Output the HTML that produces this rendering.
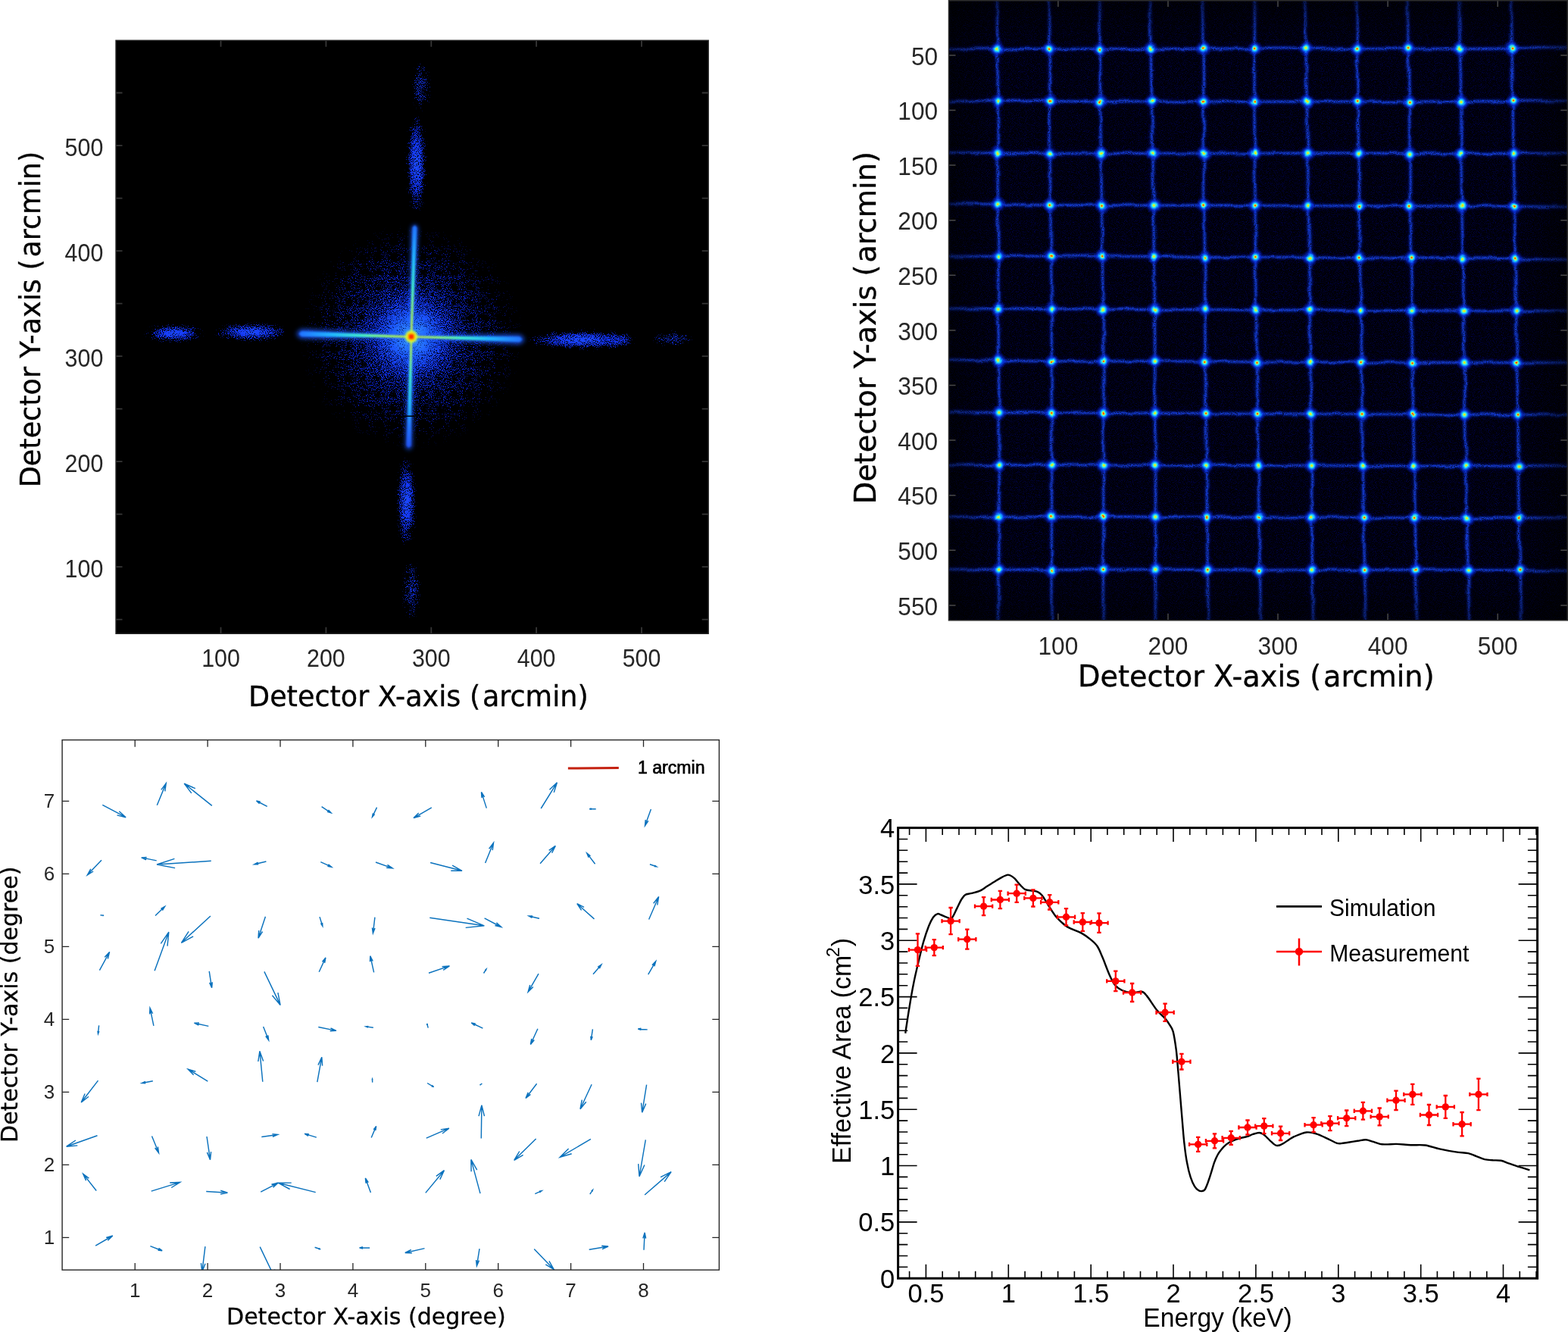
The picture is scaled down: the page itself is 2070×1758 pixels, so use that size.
<!DOCTYPE html>
<html lang="en"><head><meta charset="utf-8"><title>Detector calibration figure</title>
<style>
html,body{margin:0;padding:0;background:#fff}
body{width:2070px;height:1758px;overflow:hidden}
svg{display:block;position:absolute;left:0;top:0}
.hv{font-family:"Liberation Sans",Arial,Helvetica,sans-serif}
.dj{font-family:"DejaVu Sans",Verdana,sans-serif}
.tk{fill:#262626}
</style></head><body>
<svg width="2070" height="1758" viewBox="0 0 2070 1758">
<defs>

<radialGradient id="halo" cx="543" cy="444.5" r="150" gradientUnits="userSpaceOnUse">
<stop offset="0" stop-color="#48b0ff" stop-opacity="1"/>
<stop offset="0.07" stop-color="#3088ff" stop-opacity="1"/>
<stop offset="0.18" stop-color="#1c58ff" stop-opacity="0.85"/>
<stop offset="0.32" stop-color="#1438f8" stop-opacity="0.6"/>
<stop offset="0.5" stop-color="#0c28e8" stop-opacity="0.4"/>
<stop offset="0.7" stop-color="#0a20d8" stop-opacity="0.24"/>
<stop offset="0.87" stop-color="#0818d0" stop-opacity="0.1"/>
<stop offset="1" stop-color="#0818d0" stop-opacity="0"/>
</radialGradient>
<radialGradient id="haze" cx="543" cy="444.5" r="70" gradientUnits="userSpaceOnUse">
<stop offset="0" stop-color="#1040e0" stop-opacity="0.75"/>
<stop offset="0.3" stop-color="#0828c0" stop-opacity="0.45"/>
<stop offset="0.65" stop-color="#0418a0" stop-opacity="0.2"/>
<stop offset="1" stop-color="#001080" stop-opacity="0"/>
</radialGradient>
<radialGradient id="blob">
<stop offset="0" stop-color="#2050ff" stop-opacity="0.95"/>
<stop offset="0.45" stop-color="#1438f8" stop-opacity="0.8"/>
<stop offset="0.8" stop-color="#0c28e8" stop-opacity="0.45"/>
<stop offset="1" stop-color="#081cd0" stop-opacity="0.1"/>
</radialGradient>
<radialGradient id="blobf">
<stop offset="0" stop-color="#1838f0" stop-opacity="0.6"/>
<stop offset="0.6" stop-color="#1030e8" stop-opacity="0.4"/>
<stop offset="1" stop-color="#0c24e0" stop-opacity="0.1"/>
</radialGradient>
<radialGradient id="core" cx="543" cy="444.3" r="10" gradientUnits="userSpaceOnUse">
<stop offset="0" stop-color="#ff2a00"/>
<stop offset="0.28" stop-color="#ff5a00"/>
<stop offset="0.45" stop-color="#ffd000"/>
<stop offset="0.7" stop-color="#d8ff30" stop-opacity="0.9"/>
<stop offset="1" stop-color="#60ffb0" stop-opacity="0"/>
</radialGradient>
<linearGradient id="armU" x1="543" y1="444.5" x2="547.5" y2="297" gradientUnits="userSpaceOnUse">
<stop offset="0" stop-color="#e8ff20"/><stop offset="0.2" stop-color="#a0ff60"/><stop offset="0.45" stop-color="#40f0d0"/><stop offset="0.7" stop-color="#20b8ff"/><stop offset="1" stop-color="#2070ff"/>
</linearGradient>
<linearGradient id="armD" x1="543" y1="444.5" x2="539.5" y2="592" gradientUnits="userSpaceOnUse">
<stop offset="0" stop-color="#e8ff20"/><stop offset="0.15" stop-color="#a0ff60"/><stop offset="0.35" stop-color="#40f0d0"/><stop offset="0.6" stop-color="#20b8ff"/><stop offset="0.8" stop-color="#2478ff"/><stop offset="1" stop-color="#2050f0"/>
</linearGradient>
<linearGradient id="armL" x1="543" y1="444.5" x2="394" y2="440.5" gradientUnits="userSpaceOnUse">
<stop offset="0" stop-color="#e8ff20"/><stop offset="0.2" stop-color="#a0ff60"/><stop offset="0.45" stop-color="#40f0d0"/><stop offset="0.7" stop-color="#20b8ff"/><stop offset="1" stop-color="#2070ff"/>
</linearGradient>
<linearGradient id="armR" x1="543" y1="444.5" x2="690" y2="448" gradientUnits="userSpaceOnUse">
<stop offset="0" stop-color="#e8ff20"/><stop offset="0.2" stop-color="#a0ff60"/><stop offset="0.45" stop-color="#40f0d0"/><stop offset="0.7" stop-color="#20b8ff"/><stop offset="1" stop-color="#2070ff"/>
</linearGradient>
<filter id="b1" x="152" y="52" width="784" height="785" filterUnits="userSpaceOnUse"><feGaussianBlur stdDeviation="0.9"/></filter>
<filter id="b3" x="152" y="52" width="784" height="785" filterUnits="userSpaceOnUse"><feGaussianBlur stdDeviation="3"/></filter>
<filter id="grain1" x="152" y="52" width="784" height="785" filterUnits="userSpaceOnUse" color-interpolation-filters="sRGB">
<feTurbulence type="fractalNoise" baseFrequency="0.95" numOctaves="2" seed="11" result="n"/>
<feColorMatrix in="n" type="matrix" values="0 0 0 0 0 0 0 0 0 0 0 0 0 0 0 0 0 0 2.2 -0.6" result="na"/>
<feGaussianBlur in="SourceGraphic" stdDeviation="2.5" result="s"/>
<feComposite in="s" in2="na" operator="arithmetic" k1="0" k2="1" k3="1" k4="-1" result="m"/>
<feColorMatrix in="m" type="matrix" values="0 0 0 0 0 0 0 0 0 0 0 0 0 0 0 0 0 0 5 0" result="m2"/>
<feComponentTransfer in="s" result="s2"><feFuncA type="linear" slope="40"/></feComponentTransfer>
<feComposite in="s2" in2="m2" operator="in"/>
</filter>
<radialGradient id="node">
<stop offset="0" stop-color="#e81800"/>
<stop offset="0.07" stop-color="#ff6000"/>
<stop offset="0.13" stop-color="#f0e020"/>
<stop offset="0.19" stop-color="#70ffa8"/>
<stop offset="0.28" stop-color="#20d0ff"/>
<stop offset="0.4" stop-color="#1080ff" stop-opacity="0.95"/>
<stop offset="0.56" stop-color="#0838f0" stop-opacity="0.7"/>
<stop offset="0.8" stop-color="#0420d0" stop-opacity="0.3"/>
<stop offset="1" stop-color="#0010c0" stop-opacity="0"/>
</radialGradient>
<radialGradient id="node2">
<stop offset="0" stop-color="#ffc000"/>
<stop offset="0.08" stop-color="#e8f020"/>
<stop offset="0.17" stop-color="#70ffa8"/>
<stop offset="0.28" stop-color="#20d0ff"/>
<stop offset="0.4" stop-color="#1080ff" stop-opacity="0.95"/>
<stop offset="0.56" stop-color="#0838f0" stop-opacity="0.7"/>
<stop offset="0.8" stop-color="#0420d0" stop-opacity="0.3"/>
<stop offset="1" stop-color="#0010c0" stop-opacity="0"/>
</radialGradient>
<circle id="nd" r="11" fill="url(#node)"/>
<circle id="ne" r="11" fill="url(#node2)"/>
<filter id="g1" x="1252" y="0" width="818" height="819" filterUnits="userSpaceOnUse"><feGaussianBlur stdDeviation="0.8"/></filter>
<filter id="g3" x="1252" y="0" width="818" height="819" filterUnits="userSpaceOnUse"><feGaussianBlur stdDeviation="2.2"/></filter>
<filter id="spk" x="1252" y="0" width="818" height="819" filterUnits="userSpaceOnUse" color-interpolation-filters="sRGB">
<feTurbulence type="fractalNoise" baseFrequency="1.1" numOctaves="2" seed="3" result="n"/>
<feColorMatrix in="n" type="matrix" values="0 0 0 0 0 0 0 0 0 0.01 0 0 0 0 0.32 0 0 0 2.6 -1.2"/>
</filter>
<filter id="grain2" x="1252" y="0" width="818" height="819" filterUnits="userSpaceOnUse" color-interpolation-filters="sRGB">
<feTurbulence type="fractalNoise" baseFrequency="0.9" numOctaves="1" seed="21" result="n"/>
<feColorMatrix in="n" type="matrix" values="0 0 0 0 0 0 0 0 0 0 0 0 0 0 0 0 0 0 3 -0.6" result="m"/>
<feComposite in="SourceGraphic" in2="m" operator="in"/>
</filter>

<linearGradient id="vT" x1="0" y1="0" x2="0" y2="1"><stop offset="0" stop-color="#000" stop-opacity="0.55"/><stop offset="1" stop-color="#000" stop-opacity="0"/></linearGradient>
<linearGradient id="vB" x1="0" y1="1" x2="0" y2="0"><stop offset="0" stop-color="#000" stop-opacity="0.45"/><stop offset="1" stop-color="#000" stop-opacity="0"/></linearGradient>
<linearGradient id="vL" x1="0" y1="0" x2="1" y2="0"><stop offset="0" stop-color="#000" stop-opacity="0.5"/><stop offset="1" stop-color="#000" stop-opacity="0"/></linearGradient>
<linearGradient id="vR" x1="1" y1="0" x2="0" y2="0"><stop offset="0" stop-color="#000" stop-opacity="0.6"/><stop offset="1" stop-color="#000" stop-opacity="0"/></linearGradient>

<filter id="wob" x="1240" y="-10" width="840" height="840" filterUnits="userSpaceOnUse" color-interpolation-filters="sRGB">
<feTurbulence type="fractalNoise" baseFrequency="0.04" numOctaves="2" seed="8" result="t"/>
<feDisplacementMap in="SourceGraphic" in2="t" scale="4.5" xChannelSelector="R" yChannelSelector="G"/>
</filter>

</defs>
<rect x="0" y="0" width="2070" height="1758" fill="#fff"/>
<g id="panel-psf">
<rect x="153" y="53.3" width="782.2" height="783" fill="#000"/>
<clipPath id="c1"><rect x="153" y="53.3" width="782.2" height="783"/></clipPath>
<g clip-path="url(#c1)">
<circle cx="543" cy="444.5" r="70" fill="url(#haze)"/>
<g filter="url(#grain1)">
<circle cx="543" cy="444.5" r="150" fill="url(#halo)"/>
<ellipse cx="549.8" cy="216" rx="13" ry="64" fill="url(#blob)"/>
<ellipse cx="556" cy="114" rx="11" ry="32" fill="url(#blobf)"/>
<ellipse cx="536.5" cy="662" rx="12" ry="58" fill="url(#blob)"/>
<ellipse cx="543" cy="778" rx="11" ry="38" fill="url(#blobf)"/>
<ellipse cx="332" cy="438.5" rx="48" ry="11" fill="url(#blob)"/>
<ellipse cx="230" cy="440" rx="38" ry="11" fill="url(#blob)"/>
<ellipse cx="768" cy="448.5" rx="70" ry="12" fill="url(#blob)"/>
<ellipse cx="816" cy="449.5" rx="20" ry="10" fill="url(#blobf)"/>
<ellipse cx="888" cy="447" rx="26" ry="9" fill="url(#blobf)"/>
</g>
<g filter="url(#b3)" fill="#1c58ff" opacity="0.9">
<path d="M546 444.6L551.5 300.1L547.6 296L543.5 299.9L540 444.4Z"/>
<path d="M540 444.4L535.6 589.9L539.5 594L543.6 590.1L546 444.6Z"/>
<path d="M543.1 441.5L397.2 434.6L391 440.4L396.8 446.6L542.9 447.5Z"/>
<path d="M542.9 447.5L686.9 453.9L693 448L687.1 441.9L543.1 441.5Z"/>
</g>
<g filter="url(#b1)">
<path d="M544.1 444.5L550.3 300.1L547.6 297.2L544.7 299.9L541.9 444.5Z" fill="url(#armU)"/>
<path d="M541.9 444.5L536.6 587.9L539.5 591L542.6 588.1L544.1 444.5Z" fill="url(#armD)"/>
<path d="M543 443.4L398.1 437.2L394.6 440.5L397.9 444L543 445.6Z" fill="url(#armL)"/>
<path d="M543 445.6L685.9 451.3L689.4 448L686.1 444.5L543 443.4Z" fill="url(#armR)"/>
<circle cx="543" cy="444.3" r="10" fill="url(#core)"/>
<rect x="539.6" y="441" width="6.6" height="6.6" fill="#ff3000"/>
</g>
<path d="M498 549.3H588" stroke="#000" stroke-width="1.6" fill="none"/>
</g>
<path d="M291.5 836.3v-8.5M291.5 53.3v8.5M430.4 836.3v-8.5M430.4 53.3v8.5M569.3 836.3v-8.5M569.3 53.3v8.5M708.1 836.3v-8.5M708.1 53.3v8.5M847 836.3v-8.5M847 53.3v8.5M153 817.6h8.5M935.2 817.6h-8.5M153 748.1h8.5M935.2 748.1h-8.5M153 678.6h8.5M935.2 678.6h-8.5M153 609.1h8.5M935.2 609.1h-8.5M153 539.6h8.5M935.2 539.6h-8.5M153 470.1h8.5M935.2 470.1h-8.5M153 400.6h8.5M935.2 400.6h-8.5M153 331.1h8.5M935.2 331.1h-8.5M153 261.6h8.5M935.2 261.6h-8.5M153 192.1h8.5M935.2 192.1h-8.5M153 122.5h8.5M935.2 122.5h-8.5" fill="none" stroke="#363636" stroke-width="1.8"/>
<rect x="153" y="53.3" width="782.2" height="783" fill="none" stroke="#262626" stroke-width="1.4"/>
<g class="tk">
<text class="hv" transform="translate(291.5 879.9) scale(0.932 1)" font-size="32.6" text-anchor="middle">100</text>
<text class="hv" transform="translate(136.3 761.79) scale(0.932 1)" font-size="32.6" text-anchor="end">100</text>
<text class="hv" transform="translate(430.38 879.9) scale(0.932 1)" font-size="32.6" text-anchor="middle">200</text>
<text class="hv" transform="translate(136.3 622.78) scale(0.932 1)" font-size="32.6" text-anchor="end">200</text>
<text class="hv" transform="translate(569.26 879.9) scale(0.932 1)" font-size="32.6" text-anchor="middle">300</text>
<text class="hv" transform="translate(136.3 483.77) scale(0.932 1)" font-size="32.6" text-anchor="end">300</text>
<text class="hv" transform="translate(708.14 879.9) scale(0.932 1)" font-size="32.6" text-anchor="middle">400</text>
<text class="hv" transform="translate(136.3 344.76) scale(0.932 1)" font-size="32.6" text-anchor="end">400</text>
<text class="hv" transform="translate(847.02 879.9) scale(0.932 1)" font-size="32.6" text-anchor="middle">500</text>
<text class="hv" transform="translate(136.3 205.75) scale(0.932 1)" font-size="32.6" text-anchor="end">500</text>
</g>
<text class="dj" transform="translate(328 931.6) scale(0.977 1)" font-size="37.4" fill="#000" stroke="#000" stroke-width="0.35">Detector X-axis (<tspan dx="2.7">arcmin)</tspan></text>
<text class="dj" transform="translate(53.2 643.3) rotate(-90) scale(0.977 1)" font-size="37.4" fill="#000" stroke="#000" stroke-width="0.35">Detector Y-axis (<tspan dx="2.7">arcmin)</tspan></text>
</g>
<g id="panel-grid">
<rect x="1252.5" y="0" width="818" height="818.8" fill="#000006"/>
<clipPath id="c2"><rect x="1252.5" y="0" width="818" height="818.8"/></clipPath>
<g clip-path="url(#c2)">
<rect x="1252.5" y="0" width="818" height="818.8" fill="#000" filter="url(#spk)"/>
<g filter="url(#wob)">
<g filter="url(#grain2)">
<path d="M1250 64.4L1316.8 64.6L1385.1 64.8L1452.2 64.8L1519.1 64.3L1588.1 64.5L1656.2 64L1723.9 64.1L1791.6 64.4L1859.1 64.1L1927.5 64.8L1996.1 64L2072 63.2M1250 133.5L1317.4 133.5L1385.8 133.5L1452.5 134.2L1520.6 133.6L1588.9 134.2L1655.9 134.3L1725.2 134L1792.2 134.3L1860.4 134.3L1929 133.7L1997 133.5L2072 133.4M1250 201.5L1317.1 202L1386.2 202.5L1453.5 202.6L1521.8 202.2L1589.4 202.4L1656.4 202.4L1726.6 202L1793.9 202L1861.1 202.8L1928.9 202.7L1998.2 202.5L2072 202.3M1250 268.6L1317.3 269.6L1386.7 270.7L1454.5 270.7L1523.3 271.1L1589.6 270.7L1657.1 271.3L1727 271.4L1794.7 271.7L1861.2 272L1929.9 271.6L1999.6 272.4L2072 273.1M1250 338.4L1317.9 338.1L1387.6 337.9L1455.3 338.1L1523.3 338.5L1590.6 339.7L1657.4 339.1L1728.9 340L1795.2 340.1L1862.6 341L1931.3 341L2000.2 341.8L2072 342.8M1250 407.2L1317.8 407.2L1388.4 407.2L1456.2 408.3L1524.4 408.5L1590.7 408.4L1658.1 409.2L1729.1 409.1L1796.8 409.8L1863.9 409.8L1932.3 410.4L2001.7 410.3L2072 410.1M1250 474.8L1318.4 475.9L1388.2 477L1456.8 476.8L1524.8 476.8L1591.3 476.9L1659.5 477.8L1730 477.9L1797.6 478.1L1864.6 478.4L1933.2 478.5L2002.5 478.6L2072 478.6M1250 544L1319 544.5L1388.3 545.1L1456.8 545L1524.6 545.2L1592.1 545.6L1660 546.1L1730.9 546.3L1798.1 546.4L1865.8 546.9L1934.3 547.2L2004.1 547.3L2072 547.4M1250 614.1L1319.3 613.8L1388.7 613.6L1456.4 614.1L1525.7 613.9L1593.2 614.3L1661.3 614L1731.7 614.6L1799.4 614.6L1866.9 615.1L1935.7 615.3L2004.3 614.9L2072 614.5M1250 681.9L1318.9 682.1L1388.4 682.3L1456.9 681.8L1525.3 682.2L1593.2 682.3L1661.9 682.5L1731.6 682.6L1800.3 683.1L1868.2 683.5L1936.5 684L2005.2 683.7L2072 683.4M1250 751.3L1318.8 751.8L1388.1 752.3L1456.5 751.5L1525.3 751.6L1594.3 751.9L1663.3 752.6L1732.6 752.1L1801.6 752.4L1869.3 751.9L1938.1 752.4L2007 752.8L2072 753.3M1316.3 -2L1316.8 64.6L1317.4 133.5L1317.1 202L1317.3 269.6L1317.9 338.1L1317.8 407.2L1318.4 475.9L1319 544.5L1319.3 613.8L1318.9 682.1L1318.8 751.8L1318.7 821M1384.4 -2L1385.1 64.8L1385.8 133.5L1386.2 202.5L1386.7 270.7L1387.6 337.9L1388.4 407.2L1388.2 477L1388.3 545.1L1388.7 613.6L1388.4 682.3L1388.1 752.3L1387.9 821M1451.9 -2L1452.2 64.8L1452.5 134.2L1453.5 202.6L1454.5 270.7L1455.3 338.1L1456.2 408.3L1456.8 476.8L1456.8 545L1456.4 614.1L1456.9 681.8L1456.5 751.5L1456.1 821M1517.8 -2L1519.1 64.3L1520.6 133.6L1521.8 202.2L1523.3 271.1L1523.3 338.5L1524.4 408.5L1524.8 476.8L1524.6 545.2L1525.7 613.9L1525.3 682.2L1525.3 751.6L1525.3 821M1587.4 -2L1588.1 64.5L1588.9 134.2L1589.4 202.4L1589.6 270.7L1590.6 339.7L1590.7 408.4L1591.3 476.9L1592.1 545.6L1593.2 614.3L1593.2 682.3L1594.3 751.9L1595.4 821M1656.5 -2L1656.2 64L1655.9 134.3L1656.4 202.4L1657.1 271.3L1657.4 339.1L1658.1 409.2L1659.5 477.8L1660 546.1L1661.3 614L1661.9 682.5L1663.3 752.6L1664.7 821M1722.6 -2L1723.9 64.1L1725.2 134L1726.6 202L1727 271.4L1728.9 340L1729.1 409.1L1730 477.9L1730.9 546.3L1731.7 614.6L1731.6 682.6L1732.6 752.1L1733.6 821M1791 -2L1791.6 64.4L1792.2 134.3L1793.9 202L1794.7 271.7L1795.2 340.1L1796.8 409.8L1797.6 478.1L1798.1 546.4L1799.4 614.6L1800.3 683.1L1801.6 752.4L1803 821M1858 -2L1859.1 64.1L1860.4 134.3L1861.1 202.8L1861.2 272L1862.6 341L1863.9 409.8L1864.6 478.4L1865.8 546.9L1866.9 615.1L1868.2 683.5L1869.3 751.9L1870.5 821M1926.1 -2L1927.5 64.8L1929 133.7L1928.9 202.7L1929.9 271.6L1931.3 341L1932.3 410.4L1933.2 478.5L1934.3 547.2L1935.7 615.3L1936.5 684L1938.1 752.4L1939.7 821M1995.3 -2L1996.1 64L1997 133.5L1998.2 202.5L1999.6 272.4L2000.2 341.8L2001.7 410.3L2002.5 478.6L2004.1 547.3L2004.3 614.9L2005.2 683.7L2007 752.8L2008.8 821" fill="none" stroke="#0824e8" stroke-opacity="0.5" stroke-width="4.5" filter="url(#g3)"/>
<path d="M1250 64.4L1316.8 64.6L1385.1 64.8L1452.2 64.8L1519.1 64.3L1588.1 64.5L1656.2 64L1723.9 64.1L1791.6 64.4L1859.1 64.1L1927.5 64.8L1996.1 64L2072 63.2M1250 133.5L1317.4 133.5L1385.8 133.5L1452.5 134.2L1520.6 133.6L1588.9 134.2L1655.9 134.3L1725.2 134L1792.2 134.3L1860.4 134.3L1929 133.7L1997 133.5L2072 133.4M1250 201.5L1317.1 202L1386.2 202.5L1453.5 202.6L1521.8 202.2L1589.4 202.4L1656.4 202.4L1726.6 202L1793.9 202L1861.1 202.8L1928.9 202.7L1998.2 202.5L2072 202.3M1250 268.6L1317.3 269.6L1386.7 270.7L1454.5 270.7L1523.3 271.1L1589.6 270.7L1657.1 271.3L1727 271.4L1794.7 271.7L1861.2 272L1929.9 271.6L1999.6 272.4L2072 273.1M1250 338.4L1317.9 338.1L1387.6 337.9L1455.3 338.1L1523.3 338.5L1590.6 339.7L1657.4 339.1L1728.9 340L1795.2 340.1L1862.6 341L1931.3 341L2000.2 341.8L2072 342.8M1250 407.2L1317.8 407.2L1388.4 407.2L1456.2 408.3L1524.4 408.5L1590.7 408.4L1658.1 409.2L1729.1 409.1L1796.8 409.8L1863.9 409.8L1932.3 410.4L2001.7 410.3L2072 410.1M1250 474.8L1318.4 475.9L1388.2 477L1456.8 476.8L1524.8 476.8L1591.3 476.9L1659.5 477.8L1730 477.9L1797.6 478.1L1864.6 478.4L1933.2 478.5L2002.5 478.6L2072 478.6M1250 544L1319 544.5L1388.3 545.1L1456.8 545L1524.6 545.2L1592.1 545.6L1660 546.1L1730.9 546.3L1798.1 546.4L1865.8 546.9L1934.3 547.2L2004.1 547.3L2072 547.4M1250 614.1L1319.3 613.8L1388.7 613.6L1456.4 614.1L1525.7 613.9L1593.2 614.3L1661.3 614L1731.7 614.6L1799.4 614.6L1866.9 615.1L1935.7 615.3L2004.3 614.9L2072 614.5M1250 681.9L1318.9 682.1L1388.4 682.3L1456.9 681.8L1525.3 682.2L1593.2 682.3L1661.9 682.5L1731.6 682.6L1800.3 683.1L1868.2 683.5L1936.5 684L2005.2 683.7L2072 683.4M1250 751.3L1318.8 751.8L1388.1 752.3L1456.5 751.5L1525.3 751.6L1594.3 751.9L1663.3 752.6L1732.6 752.1L1801.6 752.4L1869.3 751.9L1938.1 752.4L2007 752.8L2072 753.3M1316.3 -2L1316.8 64.6L1317.4 133.5L1317.1 202L1317.3 269.6L1317.9 338.1L1317.8 407.2L1318.4 475.9L1319 544.5L1319.3 613.8L1318.9 682.1L1318.8 751.8L1318.7 821M1384.4 -2L1385.1 64.8L1385.8 133.5L1386.2 202.5L1386.7 270.7L1387.6 337.9L1388.4 407.2L1388.2 477L1388.3 545.1L1388.7 613.6L1388.4 682.3L1388.1 752.3L1387.9 821M1451.9 -2L1452.2 64.8L1452.5 134.2L1453.5 202.6L1454.5 270.7L1455.3 338.1L1456.2 408.3L1456.8 476.8L1456.8 545L1456.4 614.1L1456.9 681.8L1456.5 751.5L1456.1 821M1517.8 -2L1519.1 64.3L1520.6 133.6L1521.8 202.2L1523.3 271.1L1523.3 338.5L1524.4 408.5L1524.8 476.8L1524.6 545.2L1525.7 613.9L1525.3 682.2L1525.3 751.6L1525.3 821M1587.4 -2L1588.1 64.5L1588.9 134.2L1589.4 202.4L1589.6 270.7L1590.6 339.7L1590.7 408.4L1591.3 476.9L1592.1 545.6L1593.2 614.3L1593.2 682.3L1594.3 751.9L1595.4 821M1656.5 -2L1656.2 64L1655.9 134.3L1656.4 202.4L1657.1 271.3L1657.4 339.1L1658.1 409.2L1659.5 477.8L1660 546.1L1661.3 614L1661.9 682.5L1663.3 752.6L1664.7 821M1722.6 -2L1723.9 64.1L1725.2 134L1726.6 202L1727 271.4L1728.9 340L1729.1 409.1L1730 477.9L1730.9 546.3L1731.7 614.6L1731.6 682.6L1732.6 752.1L1733.6 821M1791 -2L1791.6 64.4L1792.2 134.3L1793.9 202L1794.7 271.7L1795.2 340.1L1796.8 409.8L1797.6 478.1L1798.1 546.4L1799.4 614.6L1800.3 683.1L1801.6 752.4L1803 821M1858 -2L1859.1 64.1L1860.4 134.3L1861.1 202.8L1861.2 272L1862.6 341L1863.9 409.8L1864.6 478.4L1865.8 546.9L1866.9 615.1L1868.2 683.5L1869.3 751.9L1870.5 821M1926.1 -2L1927.5 64.8L1929 133.7L1928.9 202.7L1929.9 271.6L1931.3 341L1932.3 410.4L1933.2 478.5L1934.3 547.2L1935.7 615.3L1936.5 684L1938.1 752.4L1939.7 821M1995.3 -2L1996.1 64L1997 133.5L1998.2 202.5L1999.6 272.4L2000.2 341.8L2001.7 410.3L2002.5 478.6L2004.1 547.3L2004.3 614.9L2005.2 683.7L2007 752.8L2008.8 821" fill="none" stroke="#1c50ff" stroke-width="2.4" filter="url(#g1)"/>
</g>
<g><use href="#ne" x="1316.8" y="64.6"/><use href="#nd" x="1385.1" y="64.8"/><use href="#nd" x="1452.2" y="64.8"/><use href="#ne" x="1519.1" y="64.3"/><use href="#nd" x="1588.1" y="64.5"/><use href="#nd" x="1656.2" y="64"/><use href="#ne" x="1723.9" y="64.1"/><use href="#nd" x="1791.6" y="64.4"/><use href="#nd" x="1859.1" y="64.1"/><use href="#ne" x="1927.5" y="64.8"/><use href="#nd" x="1996.1" y="64"/><use href="#ne" x="1317.4" y="133.5"/><use href="#nd" x="1385.8" y="133.5"/><use href="#nd" x="1452.5" y="134.2"/><use href="#ne" x="1520.6" y="133.6"/><use href="#nd" x="1588.9" y="134.2"/><use href="#nd" x="1655.9" y="134.3"/><use href="#ne" x="1725.2" y="134"/><use href="#nd" x="1792.2" y="134.3"/><use href="#nd" x="1860.4" y="134.3"/><use href="#ne" x="1929" y="133.7"/><use href="#nd" x="1997" y="133.5"/><use href="#ne" x="1317.1" y="202"/><use href="#ne" x="1386.2" y="202.5"/><use href="#ne" x="1453.5" y="202.6"/><use href="#ne" x="1521.8" y="202.2"/><use href="#ne" x="1589.4" y="202.4"/><use href="#ne" x="1656.4" y="202.4"/><use href="#ne" x="1726.6" y="202"/><use href="#ne" x="1793.9" y="202"/><use href="#ne" x="1861.1" y="202.8"/><use href="#ne" x="1928.9" y="202.7"/><use href="#ne" x="1998.2" y="202.5"/><use href="#ne" x="1317.3" y="269.6"/><use href="#nd" x="1386.7" y="270.7"/><use href="#nd" x="1454.5" y="270.7"/><use href="#ne" x="1523.3" y="271.1"/><use href="#nd" x="1589.6" y="270.7"/><use href="#nd" x="1657.1" y="271.3"/><use href="#ne" x="1727" y="271.4"/><use href="#nd" x="1794.7" y="271.7"/><use href="#nd" x="1861.2" y="272"/><use href="#ne" x="1929.9" y="271.6"/><use href="#nd" x="1999.6" y="272.4"/><use href="#ne" x="1317.9" y="338.1"/><use href="#nd" x="1387.6" y="337.9"/><use href="#nd" x="1455.3" y="338.1"/><use href="#ne" x="1523.3" y="338.5"/><use href="#nd" x="1590.6" y="339.7"/><use href="#nd" x="1657.4" y="339.1"/><use href="#ne" x="1728.9" y="340"/><use href="#nd" x="1795.2" y="340.1"/><use href="#nd" x="1862.6" y="341"/><use href="#ne" x="1931.3" y="341"/><use href="#nd" x="2000.2" y="341.8"/><use href="#ne" x="1317.8" y="407.2"/><use href="#ne" x="1388.4" y="407.2"/><use href="#ne" x="1456.2" y="408.3"/><use href="#ne" x="1524.4" y="408.5"/><use href="#ne" x="1590.7" y="408.4"/><use href="#ne" x="1658.1" y="409.2"/><use href="#ne" x="1729.1" y="409.1"/><use href="#ne" x="1796.8" y="409.8"/><use href="#ne" x="1863.9" y="409.8"/><use href="#ne" x="1932.3" y="410.4"/><use href="#ne" x="2001.7" y="410.3"/><use href="#ne" x="1318.4" y="475.9"/><use href="#nd" x="1388.2" y="477"/><use href="#nd" x="1456.8" y="476.8"/><use href="#ne" x="1524.8" y="476.8"/><use href="#nd" x="1591.3" y="476.9"/><use href="#nd" x="1659.5" y="477.8"/><use href="#ne" x="1730" y="477.9"/><use href="#nd" x="1797.6" y="478.1"/><use href="#nd" x="1864.6" y="478.4"/><use href="#ne" x="1933.2" y="478.5"/><use href="#nd" x="2002.5" y="478.6"/><use href="#ne" x="1319" y="544.5"/><use href="#nd" x="1388.3" y="545.1"/><use href="#nd" x="1456.8" y="545"/><use href="#ne" x="1524.6" y="545.2"/><use href="#nd" x="1592.1" y="545.6"/><use href="#nd" x="1660" y="546.1"/><use href="#ne" x="1730.9" y="546.3"/><use href="#nd" x="1798.1" y="546.4"/><use href="#nd" x="1865.8" y="546.9"/><use href="#ne" x="1934.3" y="547.2"/><use href="#nd" x="2004.1" y="547.3"/><use href="#ne" x="1319.3" y="613.8"/><use href="#ne" x="1388.7" y="613.6"/><use href="#ne" x="1456.4" y="614.1"/><use href="#ne" x="1525.7" y="613.9"/><use href="#ne" x="1593.2" y="614.3"/><use href="#ne" x="1661.3" y="614"/><use href="#ne" x="1731.7" y="614.6"/><use href="#ne" x="1799.4" y="614.6"/><use href="#ne" x="1866.9" y="615.1"/><use href="#ne" x="1935.7" y="615.3"/><use href="#ne" x="2004.3" y="614.9"/><use href="#ne" x="1318.9" y="682.1"/><use href="#nd" x="1388.4" y="682.3"/><use href="#nd" x="1456.9" y="681.8"/><use href="#ne" x="1525.3" y="682.2"/><use href="#nd" x="1593.2" y="682.3"/><use href="#nd" x="1661.9" y="682.5"/><use href="#ne" x="1731.6" y="682.6"/><use href="#nd" x="1800.3" y="683.1"/><use href="#nd" x="1868.2" y="683.5"/><use href="#ne" x="1936.5" y="684"/><use href="#nd" x="2005.2" y="683.7"/><use href="#ne" x="1318.8" y="751.8"/><use href="#nd" x="1388.1" y="752.3"/><use href="#nd" x="1456.5" y="751.5"/><use href="#ne" x="1525.3" y="751.6"/><use href="#nd" x="1594.3" y="751.9"/><use href="#nd" x="1663.3" y="752.6"/><use href="#ne" x="1732.6" y="752.1"/><use href="#nd" x="1801.6" y="752.4"/><use href="#nd" x="1869.3" y="751.9"/><use href="#ne" x="1938.1" y="752.4"/><use href="#nd" x="2007" y="752.8"/></g>
</g>
<rect x="1252.5" y="0" width="818" height="62" fill="url(#vT)"/>
<rect x="1252.5" y="756" width="818" height="63" fill="url(#vB)"/>
<rect x="1252.5" y="0" width="62" height="819" fill="url(#vL)"/>
<rect x="2000" y="0" width="70" height="819" fill="url(#vR)"/>
</g>
<path d="M1396.9 818.8v-9M1396.9 0v9M1542 818.8v-9M1542 0v9M1687 818.8v-9M1687 0v9M1832.1 818.8v-9M1832.1 0v9M1977.2 818.8v-9M1977.2 0v9M1252.5 72.9h9M2069.3 72.9h-9M1252.5 145.5h9M2069.3 145.5h-9M1252.5 218.1h9M2069.3 218.1h-9M1252.5 290.7h9M2069.3 290.7h-9M1252.5 363.3h9M2069.3 363.3h-9M1252.5 435.9h9M2069.3 435.9h-9M1252.5 508.5h9M2069.3 508.5h-9M1252.5 581.1h9M2069.3 581.1h-9M1252.5 653.7h9M2069.3 653.7h-9M1252.5 726.3h9M2069.3 726.3h-9M1252.5 798.9h9M2069.3 798.9h-9" fill="none" stroke="#484848" stroke-width="1.5"/>
<path d="M1252.5 0V818.8H2069.3V0M1252.5 0.7H2070" fill="none" stroke="#2c2c2c" stroke-width="1.5"/>
<g class="tk">
<text class="hv" transform="translate(1396.88 864.2) scale(0.932 1)" font-size="34" text-anchor="middle">100</text>
<text class="hv" transform="translate(1541.96 864.2) scale(0.932 1)" font-size="34" text-anchor="middle">200</text>
<text class="hv" transform="translate(1687.04 864.2) scale(0.932 1)" font-size="34" text-anchor="middle">300</text>
<text class="hv" transform="translate(1832.12 864.2) scale(0.932 1)" font-size="34" text-anchor="middle">400</text>
<text class="hv" transform="translate(1977.2 864.2) scale(0.932 1)" font-size="34" text-anchor="middle">500</text>
<text class="hv" transform="translate(1238.2 85.5) scale(0.932 1)" font-size="34" text-anchor="end">50</text>
<text class="hv" transform="translate(1238.2 158.1) scale(0.932 1)" font-size="34" text-anchor="end">100</text>
<text class="hv" transform="translate(1238.2 230.7) scale(0.932 1)" font-size="34" text-anchor="end">150</text>
<text class="hv" transform="translate(1238.2 303.3) scale(0.932 1)" font-size="34" text-anchor="end">200</text>
<text class="hv" transform="translate(1238.2 375.9) scale(0.932 1)" font-size="34" text-anchor="end">250</text>
<text class="hv" transform="translate(1238.2 448.5) scale(0.932 1)" font-size="34" text-anchor="end">300</text>
<text class="hv" transform="translate(1238.2 521.1) scale(0.932 1)" font-size="34" text-anchor="end">350</text>
<text class="hv" transform="translate(1238.2 593.7) scale(0.932 1)" font-size="34" text-anchor="end">400</text>
<text class="hv" transform="translate(1238.2 666.3) scale(0.932 1)" font-size="34" text-anchor="end">450</text>
<text class="hv" transform="translate(1238.2 738.9) scale(0.932 1)" font-size="34" text-anchor="end">500</text>
<text class="hv" transform="translate(1238.2 811.5) scale(0.932 1)" font-size="34" text-anchor="end">550</text>
</g>
<text class="dj" transform="translate(1422.9 905.8) scale(0.983 1)" font-size="39" fill="#000" stroke="#000" stroke-width="0.35">Detector X-axis (<tspan dx="2.8">arcmin)</tspan></text>
<text class="dj" transform="translate(1156 665.3) rotate(-90) scale(0.983 1)" font-size="39" fill="#000" stroke="#000" stroke-width="0.35">Detector Y-axis (<tspan dx="2.8">arcmin)</tspan></text>
</g>
<g id="panel-quiver">
<clipPath id="c3"><rect x="82.1" y="976.6" width="867.3" height="699.5"/></clipPath>
<path clip-path="url(#c3)" d="M135.3 1062.4L166.1 1078.7M154.5 1075.9L166.1 1078.7L157.3 1070.7M207.3 1062.8L219.2 1033.9M217.8 1044.4L219.2 1033.9L212.8 1042.4M279.8 1063.4L243.2 1034.1M257.8 1040.7L243.2 1034.1L252.8 1046.9M352.7 1064.3L338.5 1057M343.8 1058.2L338.5 1057L342.6 1060.6M424.6 1064.7L436.9 1072.8M432.1 1071.2L436.9 1072.8L433.5 1069.1M497.5 1065.6L491.5 1078.1M492.4 1073.4L491.5 1078.1L494.6 1074.5M134 1135.3L115.3 1154.8M119.8 1146.8L115.3 1154.8L123.1 1150M206.7 1135.9L186.7 1131.9M193.6 1131.5L186.7 1131.9L193 1134.9M278.7 1136.3L207.1 1141M230.4 1133.4L207.1 1141L231.1 1145.6M351.4 1137L335.7 1140.8M340.6 1138.2L335.7 1140.8L341.2 1140.9M423.3 1137.6L437.7 1144.2M432.4 1143.3L437.7 1144.2L433.5 1140.8M496 1138L518.1 1145.9M510.1 1145.2L518.1 1145.9L511.5 1141.4M132.5 1207.8L137 1208.4M135.4 1208.6L137 1208.4L135.5 1207.8M205 1208.6L217.5 1196.5M214.4 1201.6L217.5 1196.5L212.4 1199.4M277.9 1209L239.4 1244.3M249.1 1229.4L239.4 1244.3L255.1 1235.9M350.4 1209.7L341 1238.2M341.7 1228L341 1238.2L346.5 1229.5M422 1210.1L425.8 1222.2M423.5 1218.5L425.8 1222.2L425.6 1217.9M494.9 1210.7L492.4 1231.6M491.4 1224.5L492.4 1231.6L495 1224.9M131.4 1280.7L144.6 1256.4M142.3 1265.5L144.6 1256.4L138.2 1263.3M204.1 1281.3L222.8 1230.1M221 1248.6L222.8 1230.1L212.3 1245.4M276.2 1281.9L279.6 1303.8M276.6 1296.9L279.6 1303.8L280.3 1296.3M348.9 1282.4L370.1 1326.6M359.4 1313.8L370.1 1326.6L366.9 1310.2M421.2 1282.8L429.9 1263.9M428.6 1270.9L429.9 1263.9L425.4 1269.4M493.6 1283.4L488.8 1261.7M492.2 1268.5L488.8 1261.7L488.5 1269.3M569.8 1065.8L546 1079.6M552.7 1073L546 1079.6L555.1 1077M642.3 1066.6L635.5 1045.4M639.6 1051.8L635.5 1045.4L636 1053M714.2 1067L735.4 1032.8M731.3 1045.9L735.4 1032.8L725.5 1042.3M786.7 1067.7L778.2 1067.7M781 1067L778.2 1067.7L781 1068.4M859.4 1068.1L851.5 1089.8M852.2 1082L851.5 1089.8L855.9 1083.3M568.1 1138.5L610 1149.3M595.3 1149.3L610 1149.3L597.1 1142.2M640.6 1139.1L651.5 1112.3M650.2 1122.1L651.5 1112.3L645.6 1120.2M713.1 1139.7L733.3 1116.4M728.6 1125.8L733.3 1116.4L724.7 1122.4M785.6 1140.2L774.8 1126.1M779.5 1129.8L774.8 1126.1L777.1 1131.7M857.9 1140.8L866.8 1143.8M863.6 1143.6L866.8 1143.8L864.1 1142M567.3 1211.2L639.3 1221.8M614.7 1224.4L639.3 1221.8L616.5 1212.2M639.6 1211.8L661.7 1223.5M653.4 1221.5L661.7 1223.5L655.4 1217.7M712 1212.2L698.2 1209M703.1 1208.9L698.2 1209L702.5 1211.3M784.5 1212.9L761.8 1192.7M771 1197.4L761.8 1192.7L767.6 1201.3M856.6 1213.5L869.6 1183.5M867.8 1194.5L869.6 1183.5L862.7 1192.3M566 1284.3L593.4 1274.9M585.2 1280.3L593.4 1274.9L583.6 1275.7M638.5 1284.5L641.9 1279.2M641.2 1281.2L641.9 1279.2L640.3 1280.6M711 1285.1L697.2 1309.1M699.7 1300L697.2 1309.1L703.8 1302.4M783 1285.8L793.9 1273.2M791.4 1278.3L793.9 1273.2L789.2 1276.4M855.7 1286.2L865.7 1268.8M863.9 1275.4L865.7 1268.8L860.9 1273.7M130.6 1353.4L129.5 1364.4M128.9 1360.7L129.5 1364.4L130.8 1360.9M202.9 1353.8L198 1330.4M201.6 1337.7L198 1330.4L197.6 1338.5M275.3 1354.4L256.4 1350.2M263 1350L256.4 1350.2L262.3 1353.2M347.6 1355.1L354.6 1372.7M350.8 1367.5L354.6 1372.7L353.8 1366.3M420.3 1355.5L443.9 1360.4M435.7 1360.8L443.9 1360.4L436.5 1356.8M492.8 1356.3L483 1354.9M486.4 1354.5L483 1354.9L486.1 1356.2M129.5 1426.1L107.2 1455M112.1 1443.5L107.2 1455L117 1447.3M201.8 1426.7L187.3 1429.5M191.9 1427.3L187.3 1429.5L192.3 1429.8M274.3 1427.1L248.3 1411.2M258.3 1414.2L248.3 1411.2L255.6 1418.7M346.8 1427.8L342.9 1387.4M347.6 1400.4L342.9 1387.4L340.8 1401M418.8 1428.2L424.8 1395.2M425.6 1406.6L424.8 1395.2L420 1405.6M491.7 1428.6L491.5 1424.2M492 1425.6L491.5 1424.2L491.2 1425.6M128.5 1498.8L87.7 1513.2M99.9 1505L87.7 1513.2L102.3 1511.9M200.5 1499.4L209.5 1521.5M204.6 1515L209.5 1521.5L208.4 1513.5M273 1500L277.5 1530.6M273.4 1520.9L277.5 1530.6L278.6 1520.2M345.3 1500.5L366.7 1497.5M359.9 1500.3L366.7 1497.5L359.4 1496.6M417.8 1501.1L402.2 1496.4M407.8 1496.7L402.2 1496.4L407 1499.3M490.2 1501.5L496.6 1486.4M495.8 1492L496.6 1486.4L493.2 1490.9M127.2 1571.5L109.8 1549.4M117.4 1555.2L109.8 1549.4L113.6 1558.1M199.7 1572.1L237.7 1560.4M226.2 1567.5L237.7 1560.4L224.2 1561M272.2 1572.5L300.4 1574.2M291 1576.1L300.4 1574.2L291.2 1571.3M344.2 1573.2L367 1561.3M360.5 1567.1L367 1561.3L358.4 1563.3M416.7 1573.6L367.4 1561.3M384.7 1561.1L367.4 1561.3L382.6 1569.5M489.4 1574L482.4 1554.9M486.3 1560.6L482.4 1554.9L483.1 1561.8M126.1 1644.2L148.7 1631M142.3 1637.2L148.7 1631L140.1 1633.4M198.4 1644.6L214.1 1650.7M208.4 1650L214.1 1650.7L209.5 1647.4M270.9 1645.2L266.8 1678.4M265.4 1667.1L266.8 1678.4L271 1667.8M343.2 1645.6L365.9 1693M354.4 1679.3L365.9 1693L362.4 1675.5M415.6 1646.3L423.1 1648.8M420.4 1648.6L423.1 1648.8L420.8 1647.4M488.1 1646.9L474.5 1646.9M479 1645.8L474.5 1646.9L479 1648.1M565.2 1356.6L563.7 1351M564.6 1352.7L563.7 1351L563.7 1353M637.4 1357.2L622.3 1350M627.9 1351.1L622.3 1350L626.7 1353.6M709.9 1357.8L700.4 1378.5M701.8 1370.8L700.4 1378.5L705.3 1372.5M782.4 1358.3L780.3 1372.7M779.8 1367.8L780.3 1372.7L782.2 1368.1M854.7 1358.9L842.3 1358M846.5 1357.3L842.3 1358L846.3 1359.4M564.1 1429.5L572.6 1434.6M569.4 1433.6L572.6 1434.6L570.2 1432.2M636.4 1430.1L633.6 1432M634.4 1431.2L633.6 1432L634.7 1431.6M708.6 1430.3L694 1449.5M697.2 1441.9L694 1449.5L700.4 1444.4M781.1 1431.2L766 1463.7M768.3 1451.7L766 1463.7L773.8 1454.2M853.6 1431.6L847.7 1468.2M846.5 1455.6L847.7 1468.2L852.7 1456.6M562.8 1502.2L592.8 1489.2M584 1496L592.8 1489.2L581.8 1490.9M635.3 1502.6L635.9 1458.6M639.5 1473.2L635.9 1458.6L632 1473.1M707.6 1503L678.7 1531.3M685.8 1519.5L678.7 1531.3L690.6 1524.4M779.9 1503.4L739.3 1527.2M750.6 1515.9L739.3 1527.2L754.7 1522.8M852.3 1504.3L844 1552.8M842.7 1536.1L844 1552.8L850.9 1537.5M561.8 1574.4L586.4 1544.7M580.8 1556.6L586.4 1544.7L575.8 1552.4M634 1575.1L621.9 1530.4M629.7 1544.1L621.9 1530.4L622.1 1546.2M706.3 1575.7L715.2 1571.7M712.6 1573.8L715.2 1571.7L711.9 1572.2M778.8 1576.1L782.4 1570.6M781.7 1572.7L782.4 1570.6L780.7 1572.1M851.1 1577L886.1 1546.6M877.1 1559.6L886.1 1546.6L872 1553.6M560.5 1647.6L534.8 1653.5M542.8 1649.4L534.8 1653.5L543.8 1653.7M633 1648.2L629.4 1670.7M628.6 1663L629.4 1670.7L632.5 1663.6M705.2 1648.6L731.2 1675.4M720.3 1668.8L731.2 1675.4L724.9 1664.4M777.7 1649.3L803 1645M795 1648.6L803 1645L794.3 1644.3M850 1649.7L851.1 1626.9M852.6 1634.5L851.1 1626.9L848.8 1634.4" fill="none" stroke="#0b72bd" stroke-width="1.45" stroke-linejoin="miter"/>
<path d="M178.2 1676.1v-9.1M178.2 976.6v9.1M274.1 1676.1v-9.1M274.1 976.6v9.1M370 1676.1v-9.1M370 976.6v9.1M465.9 1676.1v-9.1M465.9 976.6v9.1M561.8 1676.1v-9.1M561.8 976.6v9.1M657.7 1676.1v-9.1M657.7 976.6v9.1M753.6 1676.1v-9.1M753.6 976.6v9.1M849.5 1676.1v-9.1M849.5 976.6v9.1M82.1 1633.4h9.1M949.4 1633.4h-9.1M82.1 1537.4h9.1M949.4 1537.4h-9.1M82.1 1441.4h9.1M949.4 1441.4h-9.1M82.1 1345.4h9.1M949.4 1345.4h-9.1M82.1 1249.4h9.1M949.4 1249.4h-9.1M82.1 1153.4h9.1M949.4 1153.4h-9.1M82.1 1057.4h9.1M949.4 1057.4h-9.1" fill="none" stroke="#262626" stroke-width="1.3"/>
<rect x="82.1" y="976.6" width="867.3" height="699.5" fill="none" stroke="#262626" stroke-width="1.4"/>
<g class="tk">
<text class="hv" transform="translate(178.2 1711.9)" font-size="26" text-anchor="middle">1</text>
<text class="hv" transform="translate(274.1 1711.9)" font-size="26" text-anchor="middle">2</text>
<text class="hv" transform="translate(370 1711.9)" font-size="26" text-anchor="middle">3</text>
<text class="hv" transform="translate(465.9 1711.9)" font-size="26" text-anchor="middle">4</text>
<text class="hv" transform="translate(561.8 1711.9)" font-size="26" text-anchor="middle">5</text>
<text class="hv" transform="translate(657.7 1711.9)" font-size="26" text-anchor="middle">6</text>
<text class="hv" transform="translate(753.6 1711.9)" font-size="26" text-anchor="middle">7</text>
<text class="hv" transform="translate(849.5 1711.9)" font-size="26" text-anchor="middle">8</text>
<text class="hv" transform="translate(72.2 1642)" font-size="26" text-anchor="end">1</text>
<text class="hv" transform="translate(72.2 1546)" font-size="26" text-anchor="end">2</text>
<text class="hv" transform="translate(72.2 1450)" font-size="26" text-anchor="end">3</text>
<text class="hv" transform="translate(72.2 1354)" font-size="26" text-anchor="end">4</text>
<text class="hv" transform="translate(72.2 1258)" font-size="26" text-anchor="end">5</text>
<text class="hv" transform="translate(72.2 1162)" font-size="26" text-anchor="end">6</text>
<text class="hv" transform="translate(72.2 1066)" font-size="26" text-anchor="end">7</text>
</g>
<text class="dj" transform="translate(299 1748.2) scale(0.995 1)" font-size="30.2" fill="#000" stroke="#000" stroke-width="0.3">Detector X-axis (degree)</text>
<text class="dj" transform="translate(22.9 1508) rotate(-90) scale(0.995 1)" font-size="30.2" fill="#000" stroke="#000" stroke-width="0.3">Detector Y-axis (degree)</text>
<path d="M749.9 1014.1L816.8 1013.6" stroke="#c4200f" stroke-width="3" fill="none"/>
<text class="hv" transform="translate(842 1020.9) scale(0.97 1)" font-size="23.8" fill="#000" stroke="#000" stroke-width="0.7">1 arcmin</text>
</g>
<g id="panel-area">
<path d="M1200.6 1687.2v-9.5M1200.6 1092.6v9.5M1222.4 1687.2v-18.4M1222.4 1092.6v18.4M1244.2 1687.2v-9.5M1244.2 1092.6v9.5M1266 1687.2v-9.5M1266 1092.6v9.5M1287.7 1687.2v-9.5M1287.7 1092.6v9.5M1309.5 1687.2v-9.5M1309.5 1092.6v9.5M1331.3 1687.2v-18.4M1331.3 1092.6v18.4M1353.1 1687.2v-9.5M1353.1 1092.6v9.5M1374.8 1687.2v-9.5M1374.8 1092.6v9.5M1396.6 1687.2v-9.5M1396.6 1092.6v9.5M1418.4 1687.2v-9.5M1418.4 1092.6v9.5M1440.2 1687.2v-18.4M1440.2 1092.6v18.4M1461.9 1687.2v-9.5M1461.9 1092.6v9.5M1483.7 1687.2v-9.5M1483.7 1092.6v9.5M1505.5 1687.2v-9.5M1505.5 1092.6v9.5M1527.2 1687.2v-9.5M1527.2 1092.6v9.5M1549 1687.2v-18.4M1549 1092.6v18.4M1570.8 1687.2v-9.5M1570.8 1092.6v9.5M1592.6 1687.2v-9.5M1592.6 1092.6v9.5M1614.4 1687.2v-9.5M1614.4 1092.6v9.5M1636.1 1687.2v-9.5M1636.1 1092.6v9.5M1657.9 1687.2v-18.4M1657.9 1092.6v18.4M1679.7 1687.2v-9.5M1679.7 1092.6v9.5M1701.5 1687.2v-9.5M1701.5 1092.6v9.5M1723.2 1687.2v-9.5M1723.2 1092.6v9.5M1745 1687.2v-9.5M1745 1092.6v9.5M1766.8 1687.2v-18.4M1766.8 1092.6v18.4M1788.6 1687.2v-9.5M1788.6 1092.6v9.5M1810.3 1687.2v-9.5M1810.3 1092.6v9.5M1832.1 1687.2v-9.5M1832.1 1092.6v9.5M1853.9 1687.2v-9.5M1853.9 1092.6v9.5M1875.7 1687.2v-18.4M1875.7 1092.6v18.4M1897.4 1687.2v-9.5M1897.4 1092.6v9.5M1919.2 1687.2v-9.5M1919.2 1092.6v9.5M1941 1687.2v-9.5M1941 1092.6v9.5M1962.8 1687.2v-9.5M1962.8 1092.6v9.5M1984.5 1687.2v-18.4M1984.5 1092.6v18.4M2006.3 1687.2v-9.5M2006.3 1092.6v9.5M2028.1 1687.2v-9.5M2028.1 1092.6v9.5M1185.6 1687.2h25M2029.6 1687.2h-25M1185.6 1672.3h12.7M2029.6 1672.3h-12.7M1185.6 1657.5h12.7M2029.6 1657.5h-12.7M1185.6 1642.6h12.7M2029.6 1642.6h-12.7M1185.6 1627.7h12.7M2029.6 1627.7h-12.7M1185.6 1612.9h25M2029.6 1612.9h-25M1185.6 1598h12.7M2029.6 1598h-12.7M1185.6 1583.1h12.7M2029.6 1583.1h-12.7M1185.6 1568.3h12.7M2029.6 1568.3h-12.7M1185.6 1553.4h12.7M2029.6 1553.4h-12.7M1185.6 1538.5h25M2029.6 1538.5h-25M1185.6 1523.7h12.7M2029.6 1523.7h-12.7M1185.6 1508.8h12.7M2029.6 1508.8h-12.7M1185.6 1494h12.7M2029.6 1494h-12.7M1185.6 1479.1h12.7M2029.6 1479.1h-12.7M1185.6 1464.2h25M2029.6 1464.2h-25M1185.6 1449.4h12.7M2029.6 1449.4h-12.7M1185.6 1434.5h12.7M2029.6 1434.5h-12.7M1185.6 1419.6h12.7M2029.6 1419.6h-12.7M1185.6 1404.8h12.7M2029.6 1404.8h-12.7M1185.6 1389.9h25M2029.6 1389.9h-25M1185.6 1375h12.7M2029.6 1375h-12.7M1185.6 1360.2h12.7M2029.6 1360.2h-12.7M1185.6 1345.3h12.7M2029.6 1345.3h-12.7M1185.6 1330.4h12.7M2029.6 1330.4h-12.7M1185.6 1315.6h25M2029.6 1315.6h-25M1185.6 1300.7h12.7M2029.6 1300.7h-12.7M1185.6 1285.8h12.7M2029.6 1285.8h-12.7M1185.6 1271h12.7M2029.6 1271h-12.7M1185.6 1256.1h12.7M2029.6 1256.1h-12.7M1185.6 1241.2h25M2029.6 1241.2h-25M1185.6 1226.4h12.7M2029.6 1226.4h-12.7M1185.6 1211.5h12.7M2029.6 1211.5h-12.7M1185.6 1196.7h12.7M2029.6 1196.7h-12.7M1185.6 1181.8h12.7M2029.6 1181.8h-12.7M1185.6 1166.9h25M2029.6 1166.9h-25M1185.6 1152.1h12.7M2029.6 1152.1h-12.7M1185.6 1137.2h12.7M2029.6 1137.2h-12.7M1185.6 1122.3h12.7M2029.6 1122.3h-12.7M1185.6 1107.5h12.7M2029.6 1107.5h-12.7M1185.6 1092.6h25M2029.6 1092.6h-25" fill="none" stroke="#000" stroke-width="1.6"/>
<path d="M1195.2 1363.8C1196.1 1358 1198.7 1340.2 1200.6 1329C1202.4 1317.8 1204.4 1306.2 1206.4 1296.5C1208.3 1286.9 1210 1279.9 1212.2 1271C1214.3 1262.1 1216.8 1251.3 1219.1 1243.2C1221.4 1235.1 1224 1227.7 1226.1 1222.3C1228.2 1216.9 1230 1213.4 1231.9 1210.7C1233.8 1208 1235.9 1206.6 1237.7 1206.1C1239.4 1205.5 1240.4 1206.8 1242.3 1207.5C1244.3 1208.2 1247 1209.5 1249.3 1210.3C1251.6 1211 1253.9 1213.7 1256.2 1211.9C1258.6 1210 1261.1 1203.2 1263.2 1199.1C1265.3 1195.1 1267.1 1190.6 1269 1187.5C1270.8 1184.5 1272.2 1182.4 1274.3 1181C1276.4 1179.7 1278.6 1180 1281.7 1179.2C1284.9 1178.3 1289.9 1177.4 1293.3 1175.9C1296.8 1174.4 1299.5 1172.1 1302.6 1170.1C1305.7 1168.2 1308.8 1166.3 1311.9 1164.3C1315 1162.4 1318.3 1160.1 1321.2 1158.6C1324.1 1157 1327.1 1155.3 1329.3 1154.8C1331.4 1154.3 1332.2 1154.7 1333.9 1155.5C1335.7 1156.3 1337.6 1157.7 1339.7 1159.7C1341.8 1161.8 1344.3 1165.4 1346.7 1167.8C1349 1170.2 1350.9 1172.8 1353.6 1174.1C1356.3 1175.4 1360.2 1175 1362.9 1175.5C1365.6 1176 1367.7 1176.1 1369.9 1177.1C1372 1178.1 1373.3 1178.8 1375.7 1181.7C1378 1184.6 1380.9 1190 1383.8 1194.5C1386.7 1198.9 1389.6 1204.2 1393 1208.4C1396.5 1212.7 1401.5 1217.3 1404.6 1220C1407.7 1222.7 1407.7 1222.7 1411.6 1224.6C1415.5 1226.6 1423.2 1229.1 1427.8 1231.6C1432.5 1234.1 1435.9 1236.8 1439.4 1239.7C1442.9 1242.6 1446 1244.9 1448.7 1249C1451.4 1253 1452.9 1257.7 1455.7 1264.1C1458.4 1270.4 1462.2 1281.3 1464.9 1287.2C1467.6 1293.2 1469.2 1296.7 1471.9 1300C1474.6 1303.3 1477.3 1305.2 1481.2 1307C1485 1308.7 1490.8 1310.1 1495.1 1310.4C1499.3 1310.7 1503.6 1308.2 1506.7 1308.8C1509.8 1309.4 1510.1 1309.8 1513.6 1313.9C1517.1 1318 1523.5 1328.6 1527.5 1333.6C1531.6 1338.6 1535.3 1341 1538 1344.1C1540.7 1347.1 1542 1349.2 1543.8 1352.2C1545.6 1355.1 1547.2 1356 1548.7 1361.6C1550.2 1367.3 1551.6 1377 1552.8 1386C1553.9 1395 1554.6 1405.4 1555.5 1415.7C1556.4 1426.1 1557.3 1437.4 1558.2 1448.2C1559.1 1459 1560 1470.3 1560.9 1480.7C1561.8 1491 1562.5 1501.4 1563.6 1510.4C1564.6 1519.5 1565.7 1527.6 1567.1 1534.8C1568.4 1542 1570 1548.5 1571.7 1553.7C1573.4 1558.9 1575.3 1563 1577.1 1565.9C1578.9 1568.8 1580.9 1570.3 1582.5 1571.3C1584.1 1572.3 1585.2 1572.3 1586.6 1572.1C1587.9 1571.9 1589.3 1571.9 1590.6 1570C1592 1568 1593.3 1564.1 1594.7 1560.5C1596 1556.9 1597.4 1552.6 1598.7 1548.3C1600.1 1544 1601.5 1538.6 1602.8 1534.8C1604.2 1531 1605.3 1528.2 1606.9 1525.3C1608.4 1522.4 1610.2 1519.7 1612.3 1517.2C1614.3 1514.7 1616.6 1512.4 1619 1510.4C1621.5 1508.5 1624 1507 1627.2 1505.6C1630.3 1504.1 1634.8 1502.7 1638 1501.8C1641.1 1500.9 1643.4 1501 1646.1 1500.2C1648.8 1499.3 1651.5 1497.8 1654.2 1496.9C1656.9 1496.1 1660.1 1495 1662.3 1495C1664.6 1495 1665.9 1495.8 1667.7 1496.9C1669.5 1498 1671.3 1500.1 1673.1 1501.8C1674.9 1503.5 1676.7 1505.6 1678.6 1507.2C1680.4 1508.8 1682.2 1510.8 1684 1511.5C1685.8 1512.2 1687.6 1512 1689.4 1511.5C1691.2 1511.1 1692.8 1510 1694.8 1508.8C1696.8 1507.6 1699.3 1505.7 1701.5 1504.2C1703.8 1502.8 1705.8 1501.4 1708.3 1500.2C1710.8 1498.9 1713.7 1497.9 1716.4 1496.9C1719.1 1496 1721.8 1494.8 1724.5 1494.5C1727.2 1494.2 1730 1494.5 1732.7 1495C1735.4 1495.5 1738.1 1496.4 1740.8 1497.5C1743.5 1498.5 1746.2 1500 1748.9 1501.2C1751.6 1502.5 1754.3 1503.8 1757 1505C1759.7 1506.3 1762.9 1508.1 1765.1 1508.8C1767.4 1509.5 1767.8 1509.3 1770.5 1509.1C1773.2 1508.9 1777.7 1508 1781.4 1507.5C1785 1506.9 1788.6 1506.4 1792.2 1505.8C1795.8 1505.3 1799.8 1504.1 1803 1504.2C1806.2 1504.3 1808 1505.4 1811.1 1506.4C1814.3 1507.3 1818.8 1509.2 1821.9 1509.9C1825.1 1510.6 1826.4 1510.4 1830.1 1510.4C1833.7 1510.4 1838.2 1509.8 1843.6 1509.9C1849 1510 1856.2 1511 1862.5 1511.2C1868.8 1511.5 1875.1 1510.7 1881.5 1511.5C1887.8 1512.4 1893.6 1514.9 1900.4 1516.4C1907.2 1517.9 1915.7 1519.5 1922 1520.4C1928.3 1521.4 1933.8 1521.1 1938.3 1522.1C1942.8 1523 1945.5 1524.8 1949.1 1526.1C1952.7 1527.5 1956.3 1529.3 1959.9 1530.2C1963.5 1531 1967.1 1531 1970.7 1531.3C1974.3 1531.5 1977.9 1531.1 1981.5 1531.8C1985.2 1532.5 1988.3 1534.2 1992.4 1535.6C1996.4 1537 2001.4 1538.8 2005.9 1540.2C2010.4 1541.6 2017.2 1543.6 2019.4 1544.3" fill="none" stroke="#000" stroke-width="2.4" stroke-linejoin="round" stroke-linecap="butt"/>
<path d="M1199.9 1253.6H1223.1M1211.5 1232.3V1274.9M1199.9 1250.9v5.4M1223.1 1250.9v5.4M1208.8 1232.3h5.4M1208.8 1274.9h5.4M1221.7 1250.6H1244.9M1233.3 1240.1V1261.1M1221.7 1247.9v5.4M1244.9 1247.9v5.4M1230.6 1240.1h5.4M1230.6 1261.1h5.4M1243.5 1215.6H1266.7M1255.1 1198V1233.2M1243.5 1212.9v5.4M1266.7 1212.9v5.4M1252.4 1198h5.4M1252.4 1233.2h5.4M1265.2 1239.7H1288.4M1276.8 1226.7V1252.7M1265.2 1237v5.4M1288.4 1237v5.4M1274.1 1226.7h5.4M1274.1 1252.7h5.4M1287 1196.1H1310.2M1298.6 1184.1V1208.1M1287 1193.4v5.4M1310.2 1193.4v5.4M1295.9 1184.1h5.4M1295.9 1208.1h5.4M1308.8 1187.5H1332M1320.4 1175.9V1199.1M1308.8 1184.8v5.4M1332 1184.8v5.4M1317.7 1175.9h5.4M1317.7 1199.1h5.4M1330.6 1179.2H1353.8M1342.2 1167.6V1190.8M1330.6 1176.5v5.4M1353.8 1176.5v5.4M1339.5 1167.6h5.4M1339.5 1190.8h5.4M1352.3 1185.4H1375.5M1363.9 1174.3V1196.5M1352.3 1182.7v5.4M1375.5 1182.7v5.4M1361.2 1174.3h5.4M1361.2 1196.5h5.4M1374.1 1190.8H1397.3M1385.7 1181.1V1200.5M1374.1 1188.1v5.4M1397.3 1188.1v5.4M1383 1181.1h5.4M1383 1200.5h5.4M1395.9 1210.3H1419.1M1407.5 1199.2V1221.4M1395.9 1207.6v5.4M1419.1 1207.6v5.4M1404.8 1199.2h5.4M1404.8 1221.4h5.4M1417.7 1217H1440.9M1429.3 1205.2V1228.8M1417.7 1214.3v5.4M1440.9 1214.3v5.4M1426.6 1205.2h5.4M1426.6 1228.8h5.4M1439.4 1218.1H1462.6M1451 1205.3V1230.9M1439.4 1215.4v5.4M1462.6 1215.4v5.4M1448.3 1205.3h5.4M1448.3 1230.9h5.4M1461.2 1294.9H1484.4M1472.8 1281.7V1308.1M1461.2 1292.2v5.4M1484.4 1292.2v5.4M1470.1 1281.7h5.4M1470.1 1308.1h5.4M1483 1310H1506.2M1494.6 1298V1322M1483 1307.3v5.4M1506.2 1307.3v5.4M1491.9 1298h5.4M1491.9 1322h5.4M1526.5 1336.2H1549.7M1538.1 1324.6V1347.8M1526.5 1333.5v5.4M1549.7 1333.5v5.4M1535.4 1324.6h5.4M1535.4 1347.8h5.4M1548.3 1401.2H1571.5M1559.9 1390.9V1411.5M1548.3 1398.5v5.4M1571.5 1398.5v5.4M1557.2 1390.9h5.4M1557.2 1411.5h5.4M1570.1 1510.4H1593.3M1581.7 1500.9V1519.9M1570.1 1507.7v5.4M1593.3 1507.7v5.4M1579 1500.9h5.4M1579 1519.9h5.4M1591.9 1505.8H1615.1M1603.5 1496.3V1515.3M1591.9 1503.1v5.4M1615.1 1503.1v5.4M1600.8 1496.3h5.4M1600.8 1515.3h5.4M1613.6 1501.8H1636.8M1625.2 1492.8V1510.8M1613.6 1499.1v5.4M1636.8 1499.1v5.4M1622.5 1492.8h5.4M1622.5 1510.8h5.4M1635.4 1488H1658.6M1647 1478.5V1497.5M1635.4 1485.3v5.4M1658.6 1485.3v5.4M1644.3 1478.5h5.4M1644.3 1497.5h5.4M1657.2 1486.1H1680.4M1668.8 1476.1V1496.1M1657.2 1483.4v5.4M1680.4 1483.4v5.4M1666.1 1476.1h5.4M1666.1 1496.1h5.4M1679 1495.8H1702.2M1690.6 1486.6V1505M1679 1493.1v5.4M1702.2 1493.1v5.4M1687.9 1486.6h5.4M1687.9 1505h5.4M1722.5 1484.7H1745.7M1734.1 1475.2V1494.2M1722.5 1482v5.4M1745.7 1482v5.4M1731.4 1475.2h5.4M1731.4 1494.2h5.4M1744.3 1482.6H1767.5M1755.9 1473.1V1492.1M1744.3 1479.9v5.4M1767.5 1479.9v5.4M1753.2 1473.1h5.4M1753.2 1492.1h5.4M1766.1 1475.8H1789.3M1777.7 1465.5V1486.1M1766.1 1473.1v5.4M1789.3 1473.1v5.4M1775 1465.5h5.4M1775 1486.1h5.4M1787.8 1466.3H1811M1799.4 1454.9V1477.7M1787.8 1463.6v5.4M1811 1463.6v5.4M1796.7 1454.9h5.4M1796.7 1477.7h5.4M1809.6 1473.9H1832.8M1821.2 1462.5V1485.3M1809.6 1471.2v5.4M1832.8 1471.2v5.4M1818.5 1462.5h5.4M1818.5 1485.3h5.4M1831.4 1452.3H1854.6M1843 1439.6V1465M1831.4 1449.6v5.4M1854.6 1449.6v5.4M1840.3 1439.6h5.4M1840.3 1465h5.4M1853.2 1444.4H1876.4M1864.8 1430.9V1457.9M1853.2 1441.7v5.4M1876.4 1441.7v5.4M1862.1 1430.9h5.4M1862.1 1457.9h5.4M1874.9 1471.5H1898.1M1886.5 1458V1485M1874.9 1468.8v5.4M1898.1 1468.8v5.4M1883.8 1458h5.4M1883.8 1485h5.4M1896.7 1460.9H1919.9M1908.3 1446V1475.8M1896.7 1458.2v5.4M1919.9 1458.2v5.4M1905.6 1446h5.4M1905.6 1475.8h5.4M1918.5 1483.7H1941.7M1930.1 1468V1499.4M1918.5 1481v5.4M1941.7 1481v5.4M1927.4 1468h5.4M1927.4 1499.4h5.4M1940.3 1444.4H1963.5M1951.9 1423.6V1465.2M1940.3 1441.7v5.4M1963.5 1441.7v5.4M1949.2 1423.6h5.4M1949.2 1465.2h5.4" fill="none" stroke="#ff0000" stroke-width="2.3"/>
<g fill="#ff0000"><circle cx="1211.5" cy="1253.6" r="4.7"/><circle cx="1233.3" cy="1250.6" r="4.7"/><circle cx="1255.1" cy="1215.6" r="4.7"/><circle cx="1276.8" cy="1239.7" r="4.7"/><circle cx="1298.6" cy="1196.1" r="4.7"/><circle cx="1320.4" cy="1187.5" r="4.7"/><circle cx="1342.2" cy="1179.2" r="4.7"/><circle cx="1363.9" cy="1185.4" r="4.7"/><circle cx="1385.7" cy="1190.8" r="4.7"/><circle cx="1407.5" cy="1210.3" r="4.7"/><circle cx="1429.3" cy="1217" r="4.7"/><circle cx="1451" cy="1218.1" r="4.7"/><circle cx="1472.8" cy="1294.9" r="4.7"/><circle cx="1494.6" cy="1310" r="4.7"/><circle cx="1538.1" cy="1336.2" r="4.7"/><circle cx="1559.9" cy="1401.2" r="4.7"/><circle cx="1581.7" cy="1510.4" r="4.7"/><circle cx="1603.5" cy="1505.8" r="4.7"/><circle cx="1625.2" cy="1501.8" r="4.7"/><circle cx="1647" cy="1488" r="4.7"/><circle cx="1668.8" cy="1486.1" r="4.7"/><circle cx="1690.6" cy="1495.8" r="4.7"/><circle cx="1734.1" cy="1484.7" r="4.7"/><circle cx="1755.9" cy="1482.6" r="4.7"/><circle cx="1777.7" cy="1475.8" r="4.7"/><circle cx="1799.4" cy="1466.3" r="4.7"/><circle cx="1821.2" cy="1473.9" r="4.7"/><circle cx="1843" cy="1452.3" r="4.7"/><circle cx="1864.8" cy="1444.4" r="4.7"/><circle cx="1886.5" cy="1471.5" r="4.7"/><circle cx="1908.3" cy="1460.9" r="4.7"/><circle cx="1930.1" cy="1483.7" r="4.7"/><circle cx="1951.9" cy="1444.4" r="4.7"/></g>
<rect x="1185.6" y="1092.6" width="844" height="594.6" fill="none" stroke="#000" stroke-width="3"/>
<g fill="#000">
<text class="hv" transform="translate(1222.4 1718.7)" font-size="34.5" text-anchor="middle">0.5</text>
<text class="hv" transform="translate(1331.28 1718.7)" font-size="34.5" text-anchor="middle">1</text>
<text class="hv" transform="translate(1440.15 1718.7)" font-size="34.5" text-anchor="middle">1.5</text>
<text class="hv" transform="translate(1549.03 1718.7)" font-size="34.5" text-anchor="middle">2</text>
<text class="hv" transform="translate(1657.9 1718.7)" font-size="34.5" text-anchor="middle">2.5</text>
<text class="hv" transform="translate(1766.78 1718.7)" font-size="34.5" text-anchor="middle">3</text>
<text class="hv" transform="translate(1875.65 1718.7)" font-size="34.5" text-anchor="middle">3.5</text>
<text class="hv" transform="translate(1984.53 1718.7)" font-size="34.5" text-anchor="middle">4</text>
<text class="hv" transform="translate(1181.3 1699.8)" font-size="34.5" text-anchor="end">0</text>
<text class="hv" transform="translate(1181.3 1625.47)" font-size="34.5" text-anchor="end">0.5</text>
<text class="hv" transform="translate(1181.3 1551.15)" font-size="34.5" text-anchor="end">1</text>
<text class="hv" transform="translate(1181.3 1476.82)" font-size="34.5" text-anchor="end">1.5</text>
<text class="hv" transform="translate(1181.3 1402.5)" font-size="34.5" text-anchor="end">2</text>
<text class="hv" transform="translate(1181.3 1328.17)" font-size="34.5" text-anchor="end">2.5</text>
<text class="hv" transform="translate(1181.3 1253.85)" font-size="34.5" text-anchor="end">3</text>
<text class="hv" transform="translate(1181.3 1179.53)" font-size="34.5" text-anchor="end">3.5</text>
<text class="hv" transform="translate(1181.3 1105.2)" font-size="34.5" text-anchor="end">4</text>
</g>
<text class="hv" transform="translate(1509.3 1750.8) scale(0.962 1)" font-size="35" fill="#000">Energy (keV)</text>
<text class="hv" transform="translate(1122.9 1535.9) rotate(-90) scale(0.972 1)" font-size="35" fill="#000">Effective Area (cm<tspan font-size="24.3" dx="-2.8" dy="-14.9">2</tspan><tspan dx="1" dy="14.9">)</tspan></text>
<path d="M1685 1196.4H1745" stroke="#000" stroke-width="2.7" fill="none"/>
<text class="hv" transform="translate(1754.9 1209) scale(0.985 1)" font-size="30.6" fill="#000">Simulation</text>
<path d="M1685 1255.9H1745M1715 1238.5V1274.6" stroke="#ff0000" stroke-width="2.5" fill="none"/>
<circle cx="1715" cy="1255.9" r="5.2" fill="#ff0000"/>
<text class="hv" transform="translate(1755.2 1268.8) scale(0.985 1)" font-size="30.6" fill="#000">Measurement</text>
</g>
</svg>
</body></html>
